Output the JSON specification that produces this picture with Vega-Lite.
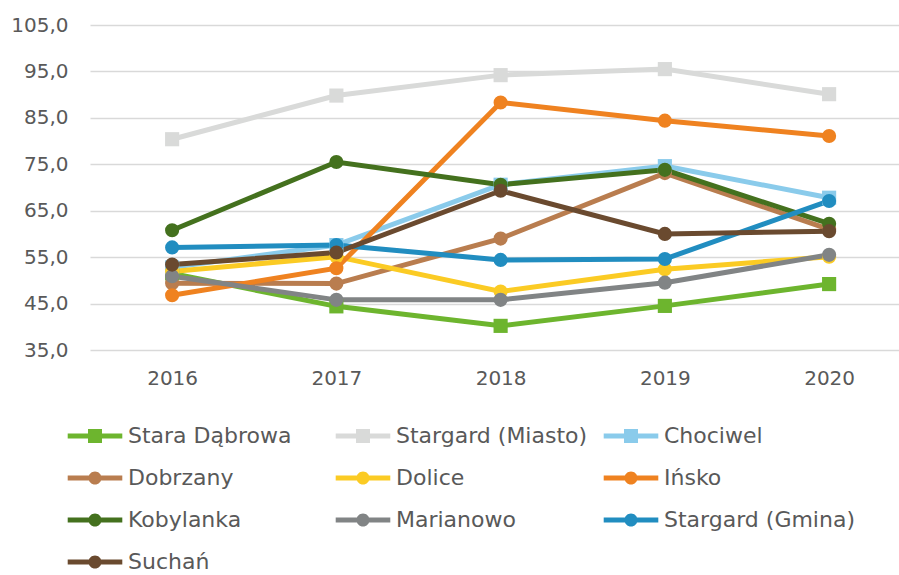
{
  "$schema": "https://vega.github.io/schema/vega-lite/v6.json",
  "width": 809,
  "height": 325,
  "autosize": "none",
  "padding": {"left": 90, "top": 25, "right": 0, "bottom": 225},
  "background": "white",
  "config": {"view": {"stroke": null}, "font": "DejaVu Sans"},
  "data": {"values": [
    {"rok": 2016, "gmina": "Stara Dąbrowa", "wartosc": 51.5},
    {"rok": 2017, "gmina": "Stara Dąbrowa", "wartosc": 44.4},
    {"rok": 2018, "gmina": "Stara Dąbrowa", "wartosc": 40.2},
    {"rok": 2019, "gmina": "Stara Dąbrowa", "wartosc": 44.5},
    {"rok": 2020, "gmina": "Stara Dąbrowa", "wartosc": 49.2},
    {"rok": 2016, "gmina": "Stargard (Miasto)", "wartosc": 80.4},
    {"rok": 2017, "gmina": "Stargard (Miasto)", "wartosc": 89.8},
    {"rok": 2018, "gmina": "Stargard (Miasto)", "wartosc": 94.2},
    {"rok": 2019, "gmina": "Stargard (Miasto)", "wartosc": 95.5},
    {"rok": 2020, "gmina": "Stargard (Miasto)", "wartosc": 90.1},
    {"rok": 2016, "gmina": "Chociwel", "wartosc": 52.8},
    {"rok": 2017, "gmina": "Chociwel", "wartosc": 57.6},
    {"rok": 2018, "gmina": "Chociwel", "wartosc": 70.6},
    {"rok": 2019, "gmina": "Chociwel", "wartosc": 74.6},
    {"rok": 2020, "gmina": "Chociwel", "wartosc": 67.8},
    {"rok": 2016, "gmina": "Dobrzany", "wartosc": 49.4},
    {"rok": 2017, "gmina": "Dobrzany", "wartosc": 49.3},
    {"rok": 2018, "gmina": "Dobrzany", "wartosc": 59.0},
    {"rok": 2019, "gmina": "Dobrzany", "wartosc": 73.1},
    {"rok": 2020, "gmina": "Dobrzany", "wartosc": 61.0},
    {"rok": 2016, "gmina": "Dolice", "wartosc": 51.9},
    {"rok": 2017, "gmina": "Dolice", "wartosc": 55.1},
    {"rok": 2018, "gmina": "Dolice", "wartosc": 47.6},
    {"rok": 2019, "gmina": "Dolice", "wartosc": 52.4},
    {"rok": 2020, "gmina": "Dolice", "wartosc": 55.1},
    {"rok": 2016, "gmina": "Ińsko", "wartosc": 46.8},
    {"rok": 2017, "gmina": "Ińsko", "wartosc": 52.6},
    {"rok": 2018, "gmina": "Ińsko", "wartosc": 88.3},
    {"rok": 2019, "gmina": "Ińsko", "wartosc": 84.4},
    {"rok": 2020, "gmina": "Ińsko", "wartosc": 81.1},
    {"rok": 2016, "gmina": "Kobylanka", "wartosc": 60.8},
    {"rok": 2017, "gmina": "Kobylanka", "wartosc": 75.5},
    {"rok": 2018, "gmina": "Kobylanka", "wartosc": 70.6},
    {"rok": 2019, "gmina": "Kobylanka", "wartosc": 73.8},
    {"rok": 2020, "gmina": "Kobylanka", "wartosc": 62.2},
    {"rok": 2016, "gmina": "Marianowo", "wartosc": 50.9},
    {"rok": 2017, "gmina": "Marianowo", "wartosc": 45.8},
    {"rok": 2018, "gmina": "Marianowo", "wartosc": 45.8},
    {"rok": 2019, "gmina": "Marianowo", "wartosc": 49.5},
    {"rok": 2020, "gmina": "Marianowo", "wartosc": 55.5},
    {"rok": 2016, "gmina": "Stargard (Gmina)", "wartosc": 57.1},
    {"rok": 2017, "gmina": "Stargard (Gmina)", "wartosc": 57.6},
    {"rok": 2018, "gmina": "Stargard (Gmina)", "wartosc": 54.4},
    {"rok": 2019, "gmina": "Stargard (Gmina)", "wartosc": 54.6},
    {"rok": 2020, "gmina": "Stargard (Gmina)", "wartosc": 67.1},
    {"rok": 2016, "gmina": "Suchań", "wartosc": 53.4},
    {"rok": 2017, "gmina": "Suchań", "wartosc": 56.0},
    {"rok": 2018, "gmina": "Suchań", "wartosc": 69.3},
    {"rok": 2019, "gmina": "Suchań", "wartosc": 60.0},
    {"rok": 2020, "gmina": "Suchań", "wartosc": 60.6}
  ]},
  "encoding": {
    "x": {
      "field": "rok", "type": "quantitative",
      "scale": {"domain": [2015.5, 2020.4255], "nice": false, "zero": false},
      "axis": {"values": [2016, 2017, 2018, 2019, 2020], "format": "d", "grid": false, "domain": false, "ticks": false, "labelFontSize": 20, "labelColor": "#595959", "labelPadding": 18, "title": null}
    },
    "y": {
      "field": "wartosc", "type": "quantitative",
      "scale": {"domain": [35, 105], "nice": false, "zero": false},
      "axis": {"values": [35, 45, 55, 65, 75, 85, 95, 105], "labelExpr": "replace(format(datum.value, '.1f'), '.', ',')", "grid": true, "gridColor": "#d9d9d9", "gridWidth": 1.5, "domain": false, "ticks": false, "labelFontSize": 20, "labelColor": "#595959", "labelPadding": 22, "title": null}
    },
    "color": {
      "field": "gmina", "type": "nominal",
      "scale": {
        "domain": ["Stara Dąbrowa", "Stargard (Miasto)", "Chociwel", "Dobrzany", "Dolice", "Ińsko", "Kobylanka", "Marianowo", "Stargard (Gmina)", "Suchań"],
        "range": ["#6DB52E", "#D9DAD9", "#8ACBEB", "#B97D4F", "#FBCB24", "#EF8220", "#44711E", "#818485", "#218DC0", "#6A4A2F"]
      },
      "legend": {
        "orient": "none", "legendX": -6, "legendY": 400, "direction": "horizontal", "columns": 3, "gridAlign": "all",
        "columnPadding": 15, "rowPadding": 20, "symbolSize": 196, "labelOffset": 22,
        "labelFontSize": 22, "labelColor": "#595959", "labelLimit": 0, "title": null,
        "encode": {
          "symbols": {
            "update": {
              "shape": {"signal": "indexof(['Stara Dąbrowa','Stargard (Miasto)','Chociwel'], datum.value) >= 0 ? 'M-3.9,-0.36L3.9,-0.36L3.9,0.36L-3.9,0.36Z M-1,-1L1,-1L1,1L-1,1Z' : 'M-3.9,-0.36L3.9,-0.36L3.9,0.36L-3.9,0.36Z M-0.93,0A0.93,0.93,0,1,1,0.93,0A0.93,0.93,0,1,1,-0.93,0Z'"},
              "fill": {"signal": "scale('color', datum.value)"},
              "fillOpacity": {"value": 1},
              "opacity": {"value": 1},
              "strokeWidth": {"value": 0}
            }
          }
        }
      }
    }
  },
  "layer": [
    {"mark": {"type": "line", "strokeWidth": 5}},
    {
      "transform": [{"filter": "indexof(['Stara Dąbrowa','Stargard (Miasto)','Chociwel'], datum.gmina) >= 0"}],
      "mark": {"type": "square", "size": 200, "opacity": 1}
    },
    {
      "transform": [{"filter": "indexof(['Stara Dąbrowa','Stargard (Miasto)','Chociwel'], datum.gmina) < 0"}],
      "mark": {"type": "circle", "size": 200, "opacity": 1}
    }
  ]
}
